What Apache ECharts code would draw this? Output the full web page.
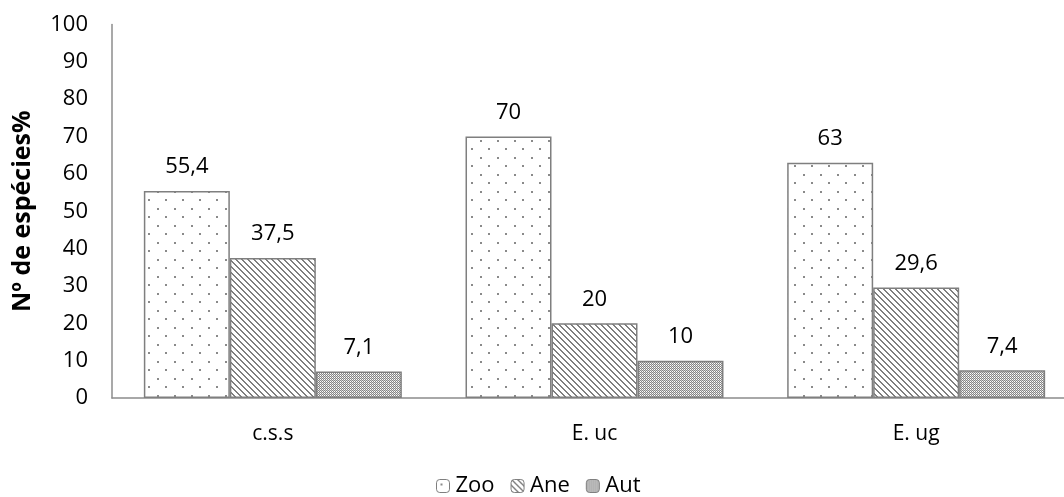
<!DOCTYPE html>
<html>
<head>
<meta charset="utf-8">
<script src="https://cdn.jsdelivr.net/npm/echarts@6/dist/echarts.min.js"></script>
<style>html,body{margin:0;padding:0;background:#fff;}#c{width:1064px;height:497px;}</style>
</head>
<body>
<div id="c"></div>
<script>
const categories = ['c.s.s', 'E. uc', 'E. ug'];
const seriesNames = ['Zoo', 'Ane', 'Aut'];
const zooValues = [55.4, 70, 63];
const aneValues = [37.5, 20, 29.6];
const autValues = [7.1, 10, 7.4];
const yTicks = { min: 0, max: 100, interval: 10 };

function makeTile(w, h, draw) {
  const c = document.createElement('canvas');
  c.width = w; c.height = h;
  const ctx = c.getContext('2d');
  ctx.fillStyle = '#fff';
  ctx.fillRect(0, 0, w, h);
  draw(ctx);
  return c;
}
const dotTile = makeTile(17, 17, ctx => {
  ctx.fillStyle = '#8a8a8a';
  ctx.fillRect(4, 4, 2, 2);
  ctx.fillRect(12, 12, 2, 2);
});
const diagTile = makeTile(6, 6, ctx => {
  ctx.fillStyle = '#7f7f7f';
  for (let y = 0; y < 6; y++) {
    for (let x = 0; x < 6; x++) {
      const d = ((x - y) % 6 + 6) % 6;
      if (d === 0 || d === 1) ctx.fillRect(x, y, 1, 1);
    }
  }
});
const checkTile = makeTile(2, 2, ctx => {
  ctx.fillStyle = '#858585';
  ctx.fillRect(0, 0, 1, 1);
  ctx.fillRect(1, 1, 1, 1);
  ctx.fillStyle = '#d0d0d0';
  ctx.fillRect(1, 0, 1, 1);
});
const patterns = [dotTile, diagTile, checkTile];
const values = [zooValues, aneValues, autValues];

const fontFamily = '"Open Sans", sans-serif';
const chart = echarts.init(document.getElementById('c'), null, { renderer: 'canvas' });
chart.setOption({
  animation: false,
  textStyle: { fontFamily: fontFamily },
  grid: { left: 112, right: -13, top: 24.5, bottom: 99, containLabel: false, outerBoundsMode: 'none' },
  legend: {
    top: 470, left: 431,
    itemWidth: 13, itemHeight: 13, itemGap: 16,
    textStyle: { fontSize: 22, color: '#000', fontFamily: fontFamily, padding: [0, 0, 0, 1] },
    data: seriesNames.map((n, i) => ({ name: n, itemStyle: { borderWidth: 1, borderColor: '#7f7f7f' } }))
  },
  xAxis: {
    type: 'category', data: categories,
    axisLine: { lineStyle: { color: '#8c8c8c', width: 1.5 } },
    axisTick: { show: false },
    axisLabel: { color: '#000', fontSize: 21, margin: 26, fontFamily: fontFamily }
  },
  yAxis: {
    type: 'value', min: yTicks.min, max: yTicks.max, interval: yTicks.interval,
    name: 'Nº de espécies%', nameLocation: 'middle', nameGap: 77, nameRotate: 90,
    nameTextStyle: { fontWeight: 'bold', fontSize: 25, color: '#000', fontFamily: fontFamily },
    axisLine: { show: true, lineStyle: { color: '#8c8c8c', width: 1.5 } },
    axisTick: { show: false },
    splitLine: { show: false },
    axisLabel: { color: '#000', fontSize: 22, margin: 24, fontFamily: fontFamily }
  },
  series: seriesNames.map((n, i) => ({
    name: n, type: 'bar', data: values[i],
    barGap: '0%', barCategoryGap: '19.8%',
    itemStyle: {
      color: { image: patterns[i], repeat: 'repeat' },
      borderColor: '#7f7f7f', borderWidth: 1.5
    },
    label: {
      show: true, position: 'top', distance: 13, fontSize: 22, color: '#000',
      fontFamily: fontFamily,
      formatter: p => String(p.value).replace('.', ',')
    }
  }))
});
</script>
</body>
</html>
